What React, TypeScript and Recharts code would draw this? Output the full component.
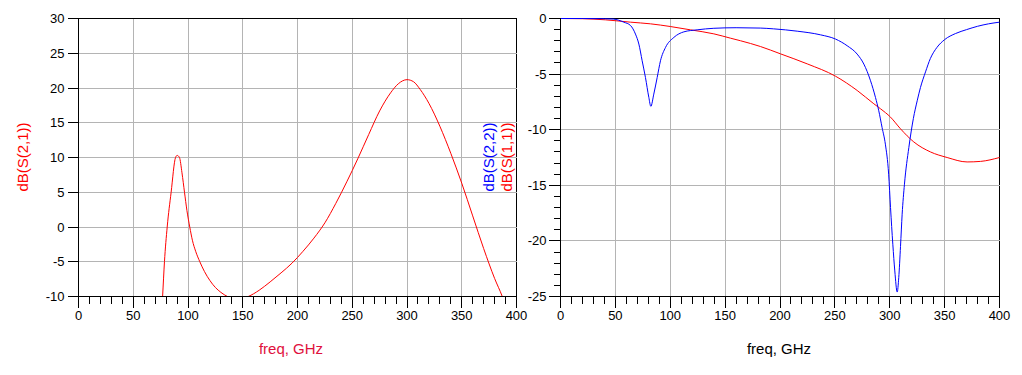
import { CartesianGrid, Line, LineChart, XAxis, YAxis } from "recharts";

// S(2,1) in dB, left panel
const s21Freq = [72, 76.8, 78.5, 81, 84.6, 88.6, 90.1, 92.2, 94.5, 96.8, 99, 101.6, 104, 107, 110.8, 115, 120, 125, 130, 136, 145, 155, 165, 175, 185, 195, 205, 215, 225, 235, 245, 255, 265, 275, 285, 292, 300, 306, 312, 320, 330, 340, 350, 360, 370, 380, 387, 392];
const s21Db = [-20, -10, -5, 0, 5, 10, 10.3, 10, 7.8, 5, 2.4, 0, -1.9, -3.5, -5, -6.4, -7.7, -8.7, -9.4, -10, -10.4, -10, -9.1, -7.9, -6.6, -5.2, -3.5, -1.6, 0.6, 3.4, 6.5, 9.8, 13.3, 16.7, 19.3, 20.6, 21.2, 20.9, 19.8, 17.8, 14.5, 10.6, 6.3, 1.6, -3.1, -7.4, -10, -12.3];

// S(2,2) in dB, right panel
const s22Freq = [0, 20, 40, 48, 57.7, 63.8, 68.3, 71.4, 74.4, 77.4, 80.5, 82.3, 85, 88.1, 91.1, 95.7, 103.3, 112.4, 124.5, 139.7, 160, 182, 194, 215.7, 237, 250.6, 261.2, 270.3, 276.4, 282.5, 287, 290, 293, 296, 299, 300.7, 302.8, 304.6, 306.8, 308.2, 309.8, 311.3, 313.4, 317.4, 321.5, 325, 328, 332.6, 337, 343, 350, 360, 370, 380, 390, 400];
const s22Db = [0, 0, -0.02, -0.05, -0.33, -0.63, -1.4, -2.3, -3.8, -5.3, -7.1, -7.9, -6.8, -5.3, -3.8, -2.6, -1.7, -1.2, -1.02, -0.88, -0.83, -0.86, -0.93, -1.14, -1.47, -1.85, -2.45, -3.2, -4.1, -5.6, -7.1, -8.3, -9.8, -11.3, -14, -17, -20.3, -22.7, -24.6, -23.3, -20.5, -17.6, -14.9, -11.6, -9, -7.4, -6.2, -4.8, -3.6, -2.6, -1.9, -1.35, -1.0, -0.7, -0.48, -0.33];

// S(1,1) in dB, right panel
const s11Freq = [0, 20, 41, 63.8, 82, 100, 118.4, 139.7, 154.9, 164, 182.2, 200.5, 224.8, 250.6, 270.3, 285.5, 291.6, 300.7, 309.8, 321.9, 337.1, 352.3, 370.5, 382.7, 400];
const s11Db = [0, -0.02, -0.12, -0.33, -0.48, -0.72, -1.02, -1.38, -1.77, -2.0, -2.52, -3.18, -4.08, -5.19, -6.47, -7.67, -8.12, -8.87, -9.92, -11.1, -12.0, -12.5, -12.9, -12.85, -12.5];

const freqLabels = [0, 50, 100, 150, 200, 250, 300, 350, 400];
const leftYLabels = [-10, -5, 0, 5, 10, 15, 20, 25, 30];
const rightYLabels = [-25, -20, -15, -10, -5, 0];

const xTicks = Array.from({ length: 41 }, (_, i) => i * 10);
const rightYTicks = Array.from({ length: 26 }, (_, i) => i - 25);

const toPoints = (f: number[], d: number[]) => f.map((x, i) => ({ f: x, db: d[i] }));
const s21 = toPoints(s21Freq, s21Db);
const s22 = toPoints(s22Freq, s22Db);
const s11 = toPoints(s11Freq, s11Db);

const tickFont = { fontFamily: "'Liberation Sans', Arial, sans-serif", fontSize: 13, fill: "#000" };

const XTick = (props: any) => {
  const { x, y, payload } = props;
  const major = freqLabels.includes(payload.value);
  return (
    <g>
      <line x1={x} x2={x} y1={y} y2={y + (major ? 11 : 7)} stroke="#000" shapeRendering="crispEdges" />
      {major && (
        <text x={x} y={y + 19} textAnchor="middle" dominantBaseline="central" {...tickFont}>
          {payload.value}
        </text>
      )}
    </g>
  );
};

const makeYTick = (labels: number[], majorLen: number) => (props: any) => {
  const { x, y, payload } = props;
  const major = labels.includes(payload.value);
  return (
    <g>
      <line x1={x - (major ? majorLen : 7)} x2={x} y1={y} y2={y} stroke="#000" shapeRendering="crispEdges" />
      {major && (
        <text x={x - 14} y={y} textAnchor="end" dominantBaseline="central" {...tickFont}>
          {payload.value}
        </text>
      )}
    </g>
  );
};

const leftYTick = makeYTick(leftYLabels, 11);
const rightYTick = makeYTick(rightYLabels, 12);

const labelFont = { fontFamily: "'Liberation Sans', Arial, sans-serif", fontSize: 15, whiteSpace: "nowrap" as const };

function VLabel({ x, y, color, text }: { x: number; y: number; color: string; text: string }) {
  return (
    <div
      style={{
        ...labelFont,
        position: "absolute",
        left: x,
        top: y,
        color,
        transform: "translate(-50%, -50%) rotate(-90deg)",
        lineHeight: 1
      }}
    >
      {text}
    </div>
  );
}

function HLabel({ x, y, color, text }: { x: number; y: number; color: string; text: string }) {
  return (
    <div style={{ ...labelFont, position: "absolute", left: x, top: y, color, transform: "translate(-50%, -50%)", lineHeight: 1 }}>
      {text}
    </div>
  );
}

export default function App() {
  return (
    <div style={{ position: "absolute", left: 0, top: 0, width: 1022, height: 375, background: "#fff", overflow: "hidden" }}>
      {/* top/right frame of each plot */}
      <div style={{ position: "absolute", left: 78, top: 18, width: 439, height: 279, boxSizing: "border-box", borderTop: "1px solid #000", borderRight: "1px solid #000" }} />
      <div style={{ position: "absolute", left: 560, top: 18, width: 440, height: 279, boxSizing: "border-box", borderTop: "1px solid #000", borderRight: "1px solid #000" }} />

      <div style={{ position: "absolute", left: 0, top: 0 }}>
        <LineChart width={540} height={375} margin={{ top: 18.5, right: 23.5, bottom: 48.5, left: 0.5 }}>
          <CartesianGrid stroke="#b4b4b4" horizontalValues={[-5, 0, 5, 10, 15, 20, 25]} verticalValues={[50, 100, 150, 200, 250, 300, 350]} shapeRendering="crispEdges" />
          <XAxis type="number" dataKey="f" domain={[0, 400]} ticks={xTicks} interval={0} tickSize={0} tickMargin={0} tick={XTick} height={30} axisLine={{ stroke: "#000", shapeRendering: "crispEdges" }} allowDataOverflow />
          <YAxis type="number" domain={[-10, 30]} ticks={leftYLabels} interval={0} tickSize={0} tickMargin={0} tick={leftYTick} width={78} axisLine={{ stroke: "#000", shapeRendering: "crispEdges" }} allowDataOverflow />
          <Line data={s21} dataKey="db" type="monotone" stroke="#ff0000" strokeWidth={1} dot={false} isAnimationActive={false} />
        </LineChart>
      </div>

      <div style={{ position: "absolute", left: 520, top: 0 }}>
        <LineChart width={502} height={375} margin={{ top: 18.5, right: 22.5, bottom: 48.5, left: 0.5 }}>
          <CartesianGrid stroke="#b4b4b4" horizontalValues={[-20, -15, -10, -5]} verticalValues={[50, 100, 150, 200, 250, 300, 350]} shapeRendering="crispEdges" />
          <XAxis type="number" dataKey="f" domain={[0, 400]} ticks={xTicks} interval={0} tickSize={0} tickMargin={0} tick={XTick} height={30} axisLine={{ stroke: "#000", shapeRendering: "crispEdges" }} />
          <YAxis type="number" domain={[-25, 0]} ticks={rightYTicks} interval={0} tickSize={0} tickMargin={0} tick={rightYTick} width={40} axisLine={{ stroke: "#000", shapeRendering: "crispEdges" }} />
          <Line data={s11} dataKey="db" type="monotone" stroke="#ff0000" strokeWidth={1} dot={false} isAnimationActive={false} />
          <Line data={s22} dataKey="db" type="monotone" stroke="#0000ff" strokeWidth={1} dot={false} isAnimationActive={false} />
        </LineChart>
      </div>

      <VLabel x={22} y={157} color="#ff0000" text="dB(S(2,1))" />
      <VLabel x={488} y={157} color="#0000ff" text="dB(S(2,2))" />
      <VLabel x={506} y={157} color="#ff0000" text="dB(S(1,1))" />
      <HLabel x={291} y={348} color="#e0103c" text="freq, GHz" />
      <HLabel x={779} y={348} color="#000" text="freq, GHz" />
    </div>
  );
}
